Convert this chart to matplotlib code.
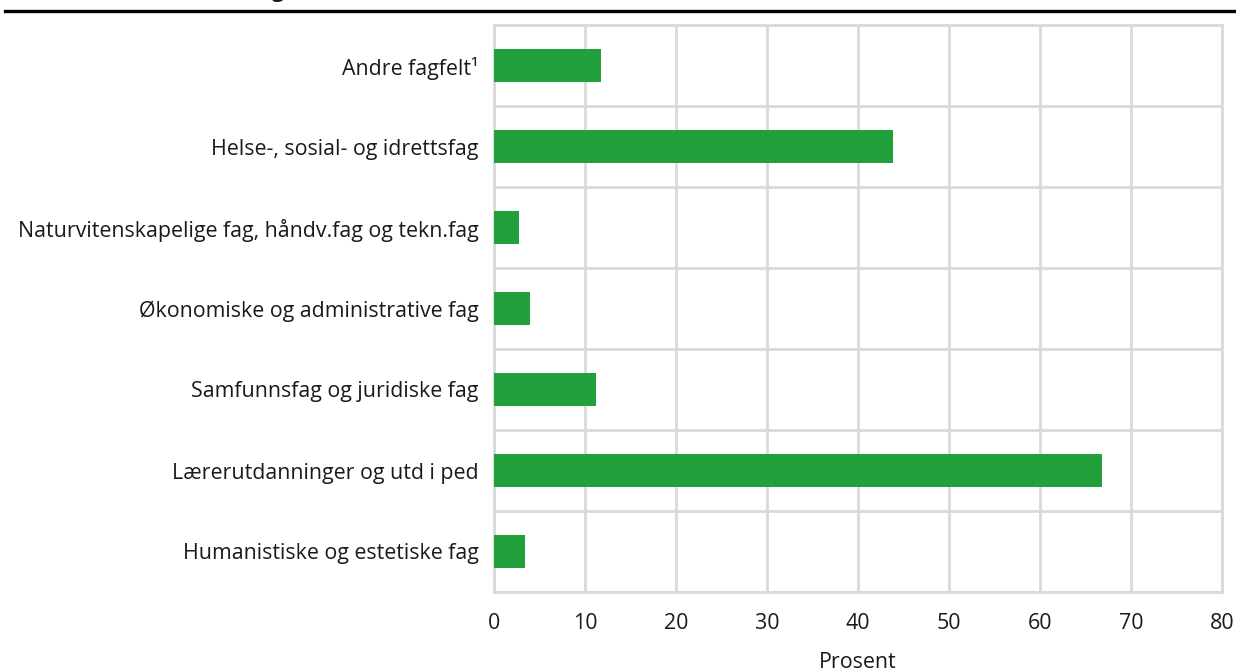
import numpy as np
import matplotlib.pyplot as plt
from matplotlib.lines import Line2D

plt.rcParams['font.family'] = ['Open Sans', 'DejaVu Sans']

# data (bottom -> top)
fag = ['Humanistiske og estetiske fag',
       'Lærerutdanninger og utd i ped',
       'Samfunnsfag og juridiske fag',
       'Økonomiske og administrative fag',
       'Naturvitenskapelige fag, håndv.fag og tekn.fag',
       'Helse-, sosial- og idrettsfag',
       'Andre fagfelt¹']
prosent = [3.4, 66.8, 11.2, 3.95, 2.75, 43.8, 11.8]
xticks = [0, 10, 20, 30, 40, 50, 60, 70, 80]

fs = 15.4
txt_col = '#1a1a1a'

fig = plt.figure(figsize=(12.36, 6.71), dpi=100)
ax = fig.add_axes([494/1236, 79/671, (1222-494)/1236, (592-25)/671])

y = np.arange(len(fag))
ax.barh(y, prosent, height=0.4, color='#22A03B', zorder=3)

ax.set_xlim(0, 80)
ax.set_ylim(-0.5, len(fag) - 0.5)
ax.set_xticks(xticks)
ax.set_yticks(y)
ax.set_yticklabels(fag)
ax.set_yticks(np.arange(-0.5, len(fag), 1), minor=True)

grid_col = '#d9d9d9'
ax.grid(axis='x', which='major', color=grid_col, lw=2, zorder=0)
ax.grid(axis='y', which='minor', color=grid_col, lw=2, zorder=0)
for s in ax.spines.values():
    s.set_color(grid_col)
    s.set_linewidth(2)

ax.tick_params(axis='both', which='both', length=0, labelsize=fs, colors=txt_col)
ax.tick_params(axis='y', pad=11)
ax.tick_params(axis='x', pad=15)
ax.set_xlabel('Prosent', fontsize=fs, color=txt_col, labelpad=13)

# black rule at top and cut-off title
fig.add_artist(Line2D([5/1236, 1], [660/671, 660/671], color='black', lw=2.4,
                      transform=fig.transFigure))
fig.text(272/1236, 673.5/671, 'g', fontsize=fs, fontweight='bold', va='baseline',
         color=txt_col)

fig.savefig('out.png', dpi=100)
